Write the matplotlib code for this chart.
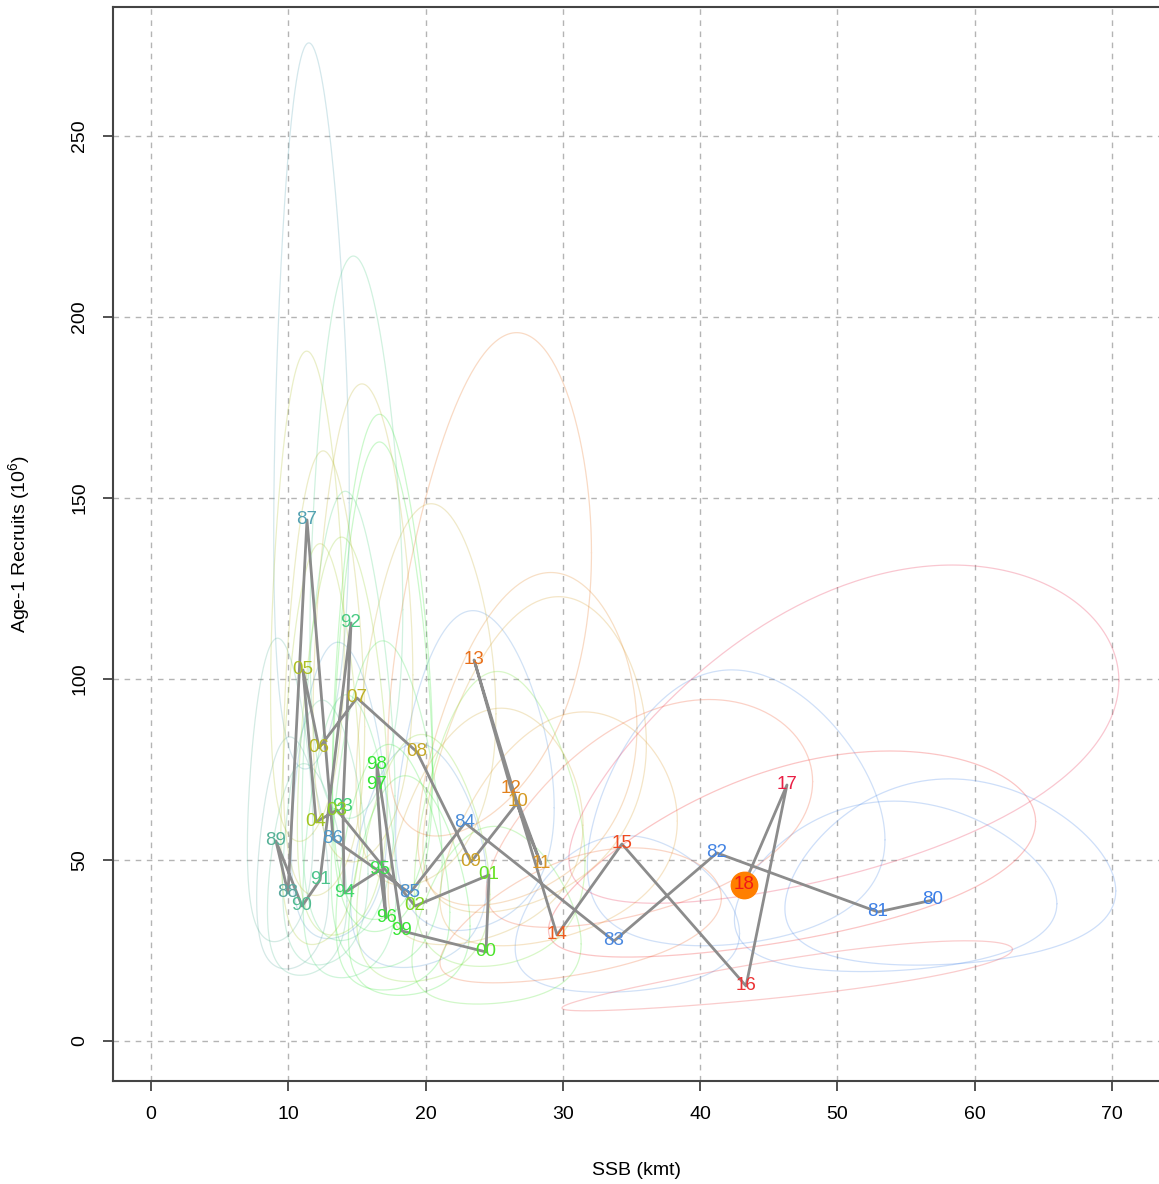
import numpy as np
import matplotlib
matplotlib.use('Agg')
import matplotlib.pyplot as plt
from matplotlib.colors import LinearSegmentedColormap

plt.rcParams['font.family'] = ['Liberation Sans', 'DejaVu Sans']
plt.rcParams['mathtext.default'] = 'regular'

years = list(range(1980, 2019))
ssb = [56.96, 52.95, 41.22, 33.72, 22.87, 18.86, 13.26, 11.36, 9.98, 9.10,
       11.00, 12.31, 14.57, 13.98, 14.06, 16.68, 17.12, 16.46, 16.46, 18.28,
       24.40, 24.62, 19.23, 13.55, 12.02, 11.07, 12.24, 15.00, 19.37, 23.31,
       26.73, 28.40, 26.22, 23.53, 29.57, 34.30, 43.34, 46.32, 43.19]
recruits = [38.95, 35.64, 51.93, 27.62, 60.22, 40.88, 55.80, 143.92, 40.88, 55.25,
            37.29, 44.48, 115.47, 64.9, 40.88, 47.24, 33.98, 70.72, 76.24, 30.39,
            24.59, 45.86, 37.29, 63.8, 60.50, 102.5, 80.94, 94.75, 79.83, 49.45,
            66.02, 48.90, 69.61, 105.25, 29.28, 54.42, 15.19, 70.72, 43.09]

# confidence region half-widths on the log scale + correlation
ell_sx = [0.21, 0.22, 0.26, 0.24, 0.25, 0.26, 0.26, 0.24, 0.26, 0.26,
          0.26, 0.25, 0.23, 0.24, 0.24, 0.24, 0.24, 0.22, 0.22, 0.24,
          0.25, 0.25, 0.25, 0.24, 0.24, 0.24, 0.24, 0.24, 0.26, 0.30,
          0.30, 0.30, 0.30, 0.31, 0.34, 0.34, 0.37, 0.42, 0.40]
ell_sy = [0.62, 0.62, 0.68, 0.72, 0.68, 0.70, 0.68, 0.65, 0.72, 0.70,
          0.72, 0.75, 0.63, 0.85, 0.85, 0.85, 0.88, 0.85, 0.82, 0.88,
          0.88, 0.80, 0.82, 0.78, 0.82, 0.62, 0.70, 0.65, 0.62, 0.62,
          0.62, 0.62, 0.62, 0.62, 0.60, 0.55, 0.60, 0.62, 0.62]
ell_rho = [0.10, 0.10, 0.10, 0.10, 0.10, 0.10, 0.10, 0.05, 0.05, 0.05,
           0.05, 0.05, 0.05, 0.05, 0.05, 0.05, 0.05, 0.05, 0.05, 0.05,
           0.10, 0.10, 0.10, 0.10, 0.10, 0.10, 0.10, 0.10, 0.20, 0.30,
           0.35, 0.35, 0.35, 0.40, 0.50, 0.50, 0.85, 0.55, 0.55]

col_stops = [(1980, '#3a7ee8'), (1983, '#4a88e0'), (1986, '#4c98c8'), (1988, '#5aa99c'),
             (1991, '#4cc48c'), (1994, '#3fd86a'), (1996, '#33e633'), (1999, '#33e633'),
             (2001, '#66e022'), (2004, '#a4c620'), (2008, '#c4a828'), (2011, '#dc9420'),
             (2013, '#e87018'), (2015, '#f04a20'), (2017, '#e8204a'), (2018, '#f01818')]
cmap = LinearSegmentedColormap.from_list(
    'yrs', [((y - 1980) / 38, c) for y, c in col_stops])
colors = [cmap((y - 1980) / 38) for y in years]

fig = plt.figure(figsize=(11.59, 11.84), dpi=100)
ax = fig.add_axes([113 / 1159, 103 / 1184, 1 - 113 / 1159, 1074 / 1184])

t = np.linspace(0, 2 * np.pi, 300)
for i in range(len(years)):
    sx, sy, r = ell_sx[i], ell_sy[i], ell_rho[i]
    cov = np.array([[sx * sx, r * sx * sy], [r * sx * sy, sy * sy]])
    L = np.linalg.cholesky(cov)
    pts = L @ np.vstack([np.cos(t), np.sin(t)])
    ex = np.exp(np.log(ssb[i]) + pts[0])
    ey = np.exp(np.log(recruits[i]) + pts[1])
    ax.plot(ex, ey, color=colors[i], lw=0.9, alpha=0.25, zorder=1)

ax.plot(ssb, recruits, color='#8c8c8c', lw=2, zorder=3)
ax.plot(ssb[-1], recruits[-1], 'o', color='#ff7f00', ms=19, zorder=4)
for i, y in enumerate(years):
    ax.text(ssb[i], recruits[i], '%02d' % (y % 100), color=colors[i],
            fontsize=13.5, ha='center', va='center', zorder=5)

ax.set_xlim(-2.77, 73.42)
ax.set_ylim(-11.05, 285.6)
ax.set_xticks(range(0, 71, 10))
ax.set_yticks(range(0, 251, 50))
ax.grid(True, color='#b4b4b4', ls=(0, (4, 4)), lw=1)
ax.set_axisbelow(True)
ax.tick_params(direction='out', length=7, width=1.2, colors='#333333',
               labelsize=14, labelcolor='black', pad=11)
for lab in ax.get_yticklabels():
    lab.set_rotation(90)
    lab.set_va('center')
ax.spines['right'].set_visible(False)
for s in ['left', 'top', 'bottom']:
    ax.spines[s].set_color('#444444')
    ax.spines[s].set_linewidth(1.5)

ax.set_xlabel('SSB (kmt)', fontsize=14, labelpad=28)
ax.set_ylabel('Age-1 Recruits (10$^{6}$)', fontsize=14, labelpad=28)

fig.savefig('out.png', dpi=100)
